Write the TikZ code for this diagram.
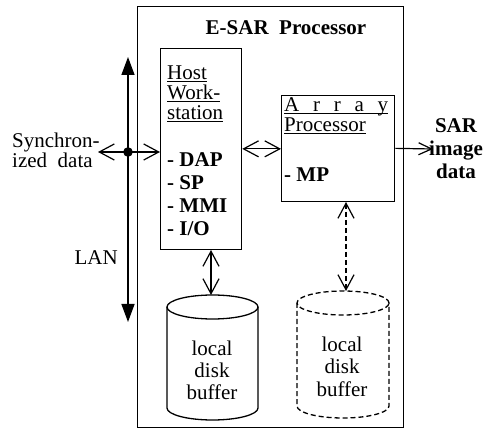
\documentclass[tikz,border=0pt]{standalone}
\usepackage{fontspec}
\setmainfont{Liberation Serif}[BoldFont={Liberation Serif Bold}]
\usetikzlibrary{arrows.meta}
\newcommand{\myul}[1]{\setbox0\hbox{#1}\rlap{\rule[-2.5pt]{\wd0}{1.1pt}}\box0}
\begin{document}
\begin{tikzpicture}[x=1pt,y=1pt,
  lw/.style={line width=1.3pt},
  box/.style={draw, line width=1.3pt, inner sep=0pt, anchor=south west},
  txt/.style={inner sep=0pt, font=\fontsize{21}{23}\selectfont},
  btxt/.style={inner sep=0pt, font=\fontsize{21}{23}\selectfont\bfseries},
  lt/.style={txt, anchor=base west},
  ct/.style={txt, anchor=base},
  blt/.style={btxt, anchor=base west},
  bct/.style={btxt, anchor=base},
  vboth/.style={line width=1.2pt, {Straight Barb[length=15pt,width=16pt]}-{Straight Barb[length=15pt,width=16pt]}},
  vone/.style={line width=1.2pt, -{Straight Barb[length=13pt,width=12pt]}},
  lanarr/.style={line width=1.4pt, {Triangle[length=18pt,width=13pt]}-{Triangle[length=18pt,width=13pt]}},
  dsh/.style={dash pattern=on 5pt off 3pt}
]
\useasboundingbox (0,0) rectangle (492,431);

% boxes
\node[box, minimum width=266pt, minimum height=421pt] (outer) at (137,3) {};
\node[box, minimum width=81pt, minimum height=201pt] (host) at (160,181) {};
\node[box, minimum width=113pt, minimum height=106pt] (arr) at (281,229) {};

% title
\node[bct] (title) at (286,396) {E-SAR~~Processor};

% host text
\node[lt] (h1) at (167,351) {\myul{Host}};
\node[lt] (h2) at (167,331) {\myul{Work-}};
\node[lt] (h3) at (167,311) {\myul{station}};
\node[blt] (h4) at (167,264) {- DAP};
\node[blt] (h5) at (167,241) {- SP};
\node[blt] (h6) at (167,218) {- MMI};
\node[blt] (h7) at (167,195) {- I/O};

% array text
\node[lt] (a1) at (284,319) {\myul{\makebox[104pt][s]{A\hfill r\hfill r\hfill a\hfill y}}};
\node[lt] (a2) at (284,299) {\myul{Processor}};
\node[blt] (a3) at (284,249) {- MP};

% SAR image data
\node[bct] (s1) at (456,298) {SAR};
\node[bct] (s2) at (456,275) {image};
\node[bct] (s3) at (456,252) {data};

% synchronized data
\node[lt] (y1) at (12,283) {Synchron-};
\node[lt] (y2) at (12,263) {ized~ data};

% LAN
\node[txt, anchor=base east] (lan) at (118,166) {LAN};
\coordinate (lantop) at (128,374);
\coordinate (lanbot) at (128,109);
\draw[lanarr] (lanbot) -- (lantop);

% sync arrow and junction
\coordinate (j) at (128,279);
\coordinate (synctip) at (98,279);
\draw[vboth] (synctip) -- (synctip -| host.west);
\fill (j) circle (4.8pt);

% host <-> array
\draw[vboth] (host.east) -- (host.east -| arr.west);

% array -> SAR image data
\coordinate (sartip) at (433,282);
\draw[vone] (arr.east) -- (sartip);

% left cylinder
\draw[lw] (212.5,124) ellipse [x radius=45.5, y radius=12];
\draw[lw] (167,124) -- (167,23) arc[start angle=180, end angle=360, x radius=45.5, y radius=12] -- (258,124);
\node[ct] (l1) at (212,76) {local};
\node[ct] (l2) at (212,54) {disk};
\node[ct] (l3) at (212,32) {buffer};
\coordinate (cyl1top) at (211,136);
\draw[vboth] (cyl1top |- host.south) -- (cyl1top);

% right dashed cylinder
\draw[lw, dsh] (343,128) ellipse [x radius=46, y radius=12];
\draw[lw, dsh] (297,128) -- (297,25) arc[start angle=180, end angle=360, x radius=46, y radius=12] -- (389,128);
\node[ct] (r1) at (342,80) {local};
\node[ct] (r2) at (342,58) {disk};
\node[ct] (r3) at (342,35) {buffer};
\coordinate (cyl2top) at (346,140);
\draw[vboth, dsh] (cyl2top |- arr.south) -- (cyl2top);
\end{tikzpicture}
\end{document}
